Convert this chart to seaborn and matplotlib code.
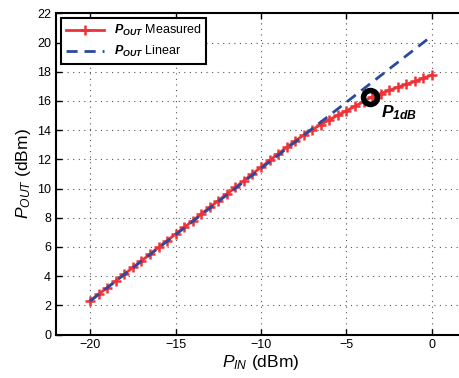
import pandas as pd
import matplotlib
matplotlib.use("Agg")
import matplotlib.pyplot as plt
import seaborn as sns

# input power sweep (dBm)
p_in = [-20.0, -19.5, -19.0, -18.5, -18.0, -17.5, -17.0, -16.5, -16.0, -15.5,
        -15.0, -14.5, -14.0, -13.5, -13.0, -12.5, -12.0, -11.5, -11.0, -10.5,
        -10.0, -9.5, -9.0, -8.5, -8.0, -7.5, -7.0, -6.5, -6.0, -5.5,
        -5.0, -4.5, -4.0, -3.5, -3.0, -2.5, -2.0, -1.5, -1.0, -0.5, 0.0]
# measured output power (dBm)
p_out_meas = [2.30, 2.76, 3.21, 3.67, 4.13, 4.59, 5.04, 5.50, 5.96, 6.42,
              6.88, 7.33, 7.79, 8.25, 8.71, 9.17, 9.62, 10.08, 10.54, 11.00,
              11.46, 11.92, 12.37, 12.82, 13.25, 13.66, 14.03, 14.38, 14.71, 15.02,
              15.32, 15.63, 15.95, 16.27, 16.50, 16.72, 16.93, 17.13, 17.33, 17.55, 17.77]
# linear extrapolation end points
lin_in = [-20.0, 0.0]
lin_out = [2.3, 20.45]
# 1 dB compression point
p1db_in = [-3.6]
p1db_out = [16.27]

plt.rcParams["font.family"] = ["Liberation Sans", "DejaVu Sans"]
plt.rcParams["mathtext.fontset"] = "custom"
plt.rcParams["mathtext.rm"] = "Liberation Sans"
plt.rcParams["mathtext.it"] = "Liberation Sans:italic"
plt.rcParams["mathtext.bf"] = "Liberation Sans:bold"
plt.rcParams["mathtext.bfit"] = "Liberation Sans:bold:italic"

meas = pd.DataFrame({"pin": p_in, "pout": p_out_meas})
lin = pd.DataFrame({"pin": lin_in, "pout": lin_out})

fig = plt.figure(figsize=(4.59, 3.78), dpi=100)
ax = fig.add_axes([56 / 459, 1 - 334.5 / 378, (466 - 56) / 459, (334.5 - 13.3) / 378])

sns.lineplot(data=meas, x="pin", y="pout", ax=ax, color="#ee3338", lw=2,
             marker="+", markersize=7, mew=1.8, mec="#ee3338",
             label=r"$\mathbfit{P}_{\mathbfit{OUT}}$ Measured")
sns.lineplot(data=lin, x="pin", y="pout", ax=ax, color="#2a4a9e", lw=2,
             linestyle=(0, (4, 2.5)), label=r"$\mathbfit{P}_{\mathbfit{OUT}}$ Linear")
ax.plot(p1db_in, p1db_out, marker="o", markersize=10, mfc="none", mec="black",
        mew=4, linestyle="none")
ax.text(-3.0, 14.9, r"$\mathbfit{P}_{\mathbfit{1dB}}$", fontsize=12.5)

ax.set_xlim(-22, 2)
ax.set_ylim(0, 22)
ax.set_xticks(range(-20, 1, 5))
ax.set_yticks(range(0, 23, 2))
ax.tick_params(direction="in", labelsize=9, top=True, right=True, width=1, length=4)
ax.grid(True, linestyle=(0, (1, 4)), color="#555555", lw=0.8)
for s in ax.spines.values():
    s.set_linewidth(1.5)
ax.set_xlabel(r"$P_{IN}$ (dBm)", fontsize=12.5, labelpad=1)
ax.set_ylabel(r"$P_{OUT}$ (dBm)", fontsize=12.5, labelpad=3)

leg = ax.legend(loc="upper left", fontsize=9, handlelength=3.0, fancybox=False,
                framealpha=1, edgecolor="black", borderpad=0.4, labelspacing=0.45,
                borderaxespad=0.4)
leg.get_frame().set_linewidth(1.5)

fig.savefig("out.png", dpi=100)
